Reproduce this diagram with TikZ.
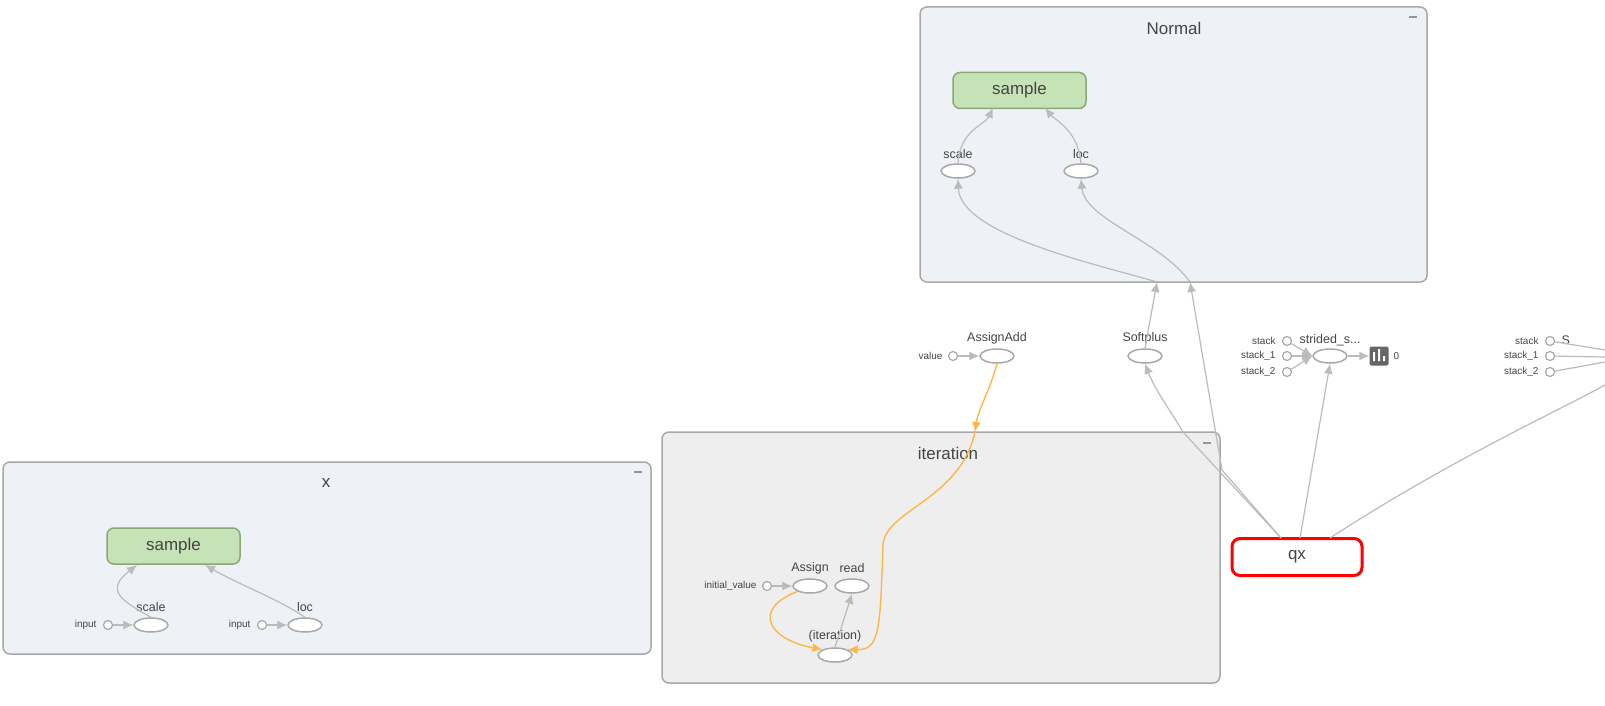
\documentclass[tikz,border=0pt]{standalone}
\usepackage{fontspec}
\setmainfont{Liberation Sans}
\usetikzlibrary{arrows.meta,shapes.geometric}
\definecolor{edge}{HTML}{BBBBBB}
\definecolor{orng}{HTML}{FDB648}
\definecolor{txt}{HTML}{444444}
\definecolor{nsfill}{HTML}{EEF1F6}
\definecolor{itfill}{HTML}{EEEEEE}
\definecolor{grn}{HTML}{C6E2B7}
\definecolor{grnd}{HTML}{8AA876}
\begin{document}
\begin{tikzpicture}[x=1bp,y=-1bp,
  box/.style={draw=edge!90!black,line width=1.5bp,rounded corners=7bp},
  title/.style={text=txt,font=\fontsize{17}{17}\selectfont},
  green/.style={draw=grnd,fill=grn,line width=1.5bp,rounded corners=7bp,minimum width=133bp,minimum height=36bp,font=\fontsize{17}{17}\selectfont,text=txt},
  op/.style={draw=edge!90!black,fill=white,ellipse,line width=1.5bp,minimum width=34bp,minimum height=14bp,inner sep=0pt},
  inp/.style={draw=edge!90!black,fill=white,circle,line width=1.2bp,minimum size=9bp,inner sep=0pt},
  lab/.style={text=txt,font=\fontsize{12.5}{12.5}\selectfont},
  slab/.style={text=txt,font=\fontsize{10}{10}\selectfont},
  e/.style={draw=edge,line width=1.2bp,-{Latex[length=10bp,width=9bp]}},
  o/.style={draw=orng,line width=1.4bp,-{Latex[length=10bp,width=9bp]}},
]
\useasboundingbox (0,0) rectangle (1605,706);
% boxes
\draw[box,fill=nsfill] (920,7) rectangle (1427,282);
\node[title] (tn) at (1174,28) {Normal};
\draw[edge!80!black,line width=1.5bp] (1409,17)--(1417,17);
\draw[box,fill=itfill] (662,432) rectangle (1220,683);
\node[title] (ti) at (948,453) {iteration};
\draw[edge!80!black,line width=1.5bp] (1203,443)--(1211,443);
\draw[box,fill=nsfill] (3,462) rectangle (651,654);
\node[title] (tx) at (326,483) {x};
\draw[edge!80!black,line width=1.5bp] (634,472)--(642,472);
% Normal
\node[green] (ns) at (1019.5,90.5) {sample};
\node[op] (nscale) at (958,171) {}; \node[lab] at (958,154) {scale};
\node[op] (nloc) at (1081,171) {}; \node[lab] at (1081,154) {loc};
\draw[e] (nscale.north) .. controls (960,130) and (985,125) .. (993,108);
\draw[e] (nloc.north) .. controls (1078,130) and (1055,120) .. (1045,108);
% middle ops
\node[op] (sp) at (1145,356) {}; \node[lab] at (1145,338) {Softplus};
\node[op] (aa) at (997,356) {}; \node[lab] at (997,338) {AssignAdd};
\node[inp] (val) at (953,356) {}; \node[slab,anchor=east] at (946,356) {value};
\draw[e] (val) -- (aa);
% qx
\node[draw=red,line width=3bp,fill=white,rounded corners=8bp,minimum width=130bp,minimum height=37bp,font=\fontsize{17}{17}\selectfont,text=txt] (qx) at (1297,557) {qx};
% strided
\node[op] (ss) at (1330,356) {}; \node[lab] at (1330,340) {strided\_s...};
\node[inp] (s0) at (1287,341) {}; \node[slab,anchor=east] at (1279,341) {stack};
\node[inp] (s1) at (1287,356) {}; \node[slab,anchor=east] at (1279,356) {stack\_1};
\node[inp] (s2) at (1287,372) {}; \node[slab,anchor=east] at (1279,372) {stack\_2};
\draw[e] (s0) -- (ss.west); \draw[e] (s1) -- (ss.west); \draw[e] (s2) -- (ss.west);
\node[fill=gray!80!black,rounded corners=2bp,minimum size=19bp,inner sep=0pt] (sum) at (1379,356) {};
\fill[white] (1373,361) rectangle (1375,352) (1378,361) rectangle (1380,349) (1383,361) rectangle (1385,356);
\node[slab,anchor=west] at (1390,356) {0};
\draw[e] (ss) -- (sum);
% right cut-off
\node[inp] (r0) at (1550,341) {}; \node[slab,anchor=east] at (1542,341) {stack};
\node[inp] (r1) at (1550,356) {}; \node[slab,anchor=east] at (1542,356) {stack\_1};
\node[inp] (r2) at (1550,372) {}; \node[slab,anchor=east] at (1542,372) {stack\_2};
\node[lab,anchor=west] at (1558,340) {S};
\draw[edge,line width=1.2bp] (r0) -- (1605,350) (r1) -- (1605,357) (r2) -- (1605,362);
\coordinate (rc) at (1605,385);
% qx edges
\draw[edge,line width=1.2bp] (1330,538) .. controls (1450,460) and (1560,410) .. (rc);
\draw[e] (1300,538) -- (ss.south);
\draw[e] (1281,538) -- (1183,432) .. controls (1170,410) and (1155,390) .. (sp.south);
\coordinate (lin) at (1190,282);
\coordinate (sin) at (1157,282);
\draw[e] (1281,538) -- (1222,470) -- (lin);
\draw[e] (lin) .. controls (1160,240) and (1085,220) .. (nloc.south);
\draw[e] (sp.north) -- (sin);
\draw[e] (sin) .. controls (1100,265) and (960,235) .. (nscale.south);
% iteration
\node[op] (as) at (810,586) {}; \node[lab] at (810,568) {Assign};
\node[op] (rd) at (852,586) {}; \node[lab] at (852,568) {read};
\node[inp] (iv) at (767,586) {}; \node[slab,anchor=east] at (760,586) {initial\_value};
\node[op] (it) at (835,655) {}; \node[lab] at (835,636) {(iteration)};
\draw[e] (iv) -- (as);
\draw[e] (it.north) -- (rd.south);
\draw[o] (as.south west) .. controls (750,610) and (770,640) .. (it.north west);
\coordinate (ain) at (975,432);
\draw[o] (aa.south) .. controls (990,390) and (978,410) .. (ain);
\draw[o] (ain) .. controls (960,500) and (885,510) .. (883,545) .. controls (880,630) and (880,650) .. (it.north east);
% x
\node[green] (xs) at (173.5,546) {sample};
\node[op] (xscale) at (151,625) {}; \node[lab] at (151,607) {scale};
\node[op] (xloc) at (305,625) {}; \node[lab] at (305,607) {loc};
\node[inp] (xi1) at (108,625) {}; \node[slab,anchor=east] at (100,625) {input};
\node[inp] (xi2) at (262,625) {}; \node[slab,anchor=east] at (254,625) {input};
\draw[e] (xi1) -- (xscale); \draw[e] (xi2) -- (xloc);
\draw[e] (xscale.north) .. controls (120,600) and (105,590) .. (137,565);
\draw[e] (xloc.north) .. controls (280,600) and (240,585) .. (205,565);
\end{tikzpicture}
\end{document}
